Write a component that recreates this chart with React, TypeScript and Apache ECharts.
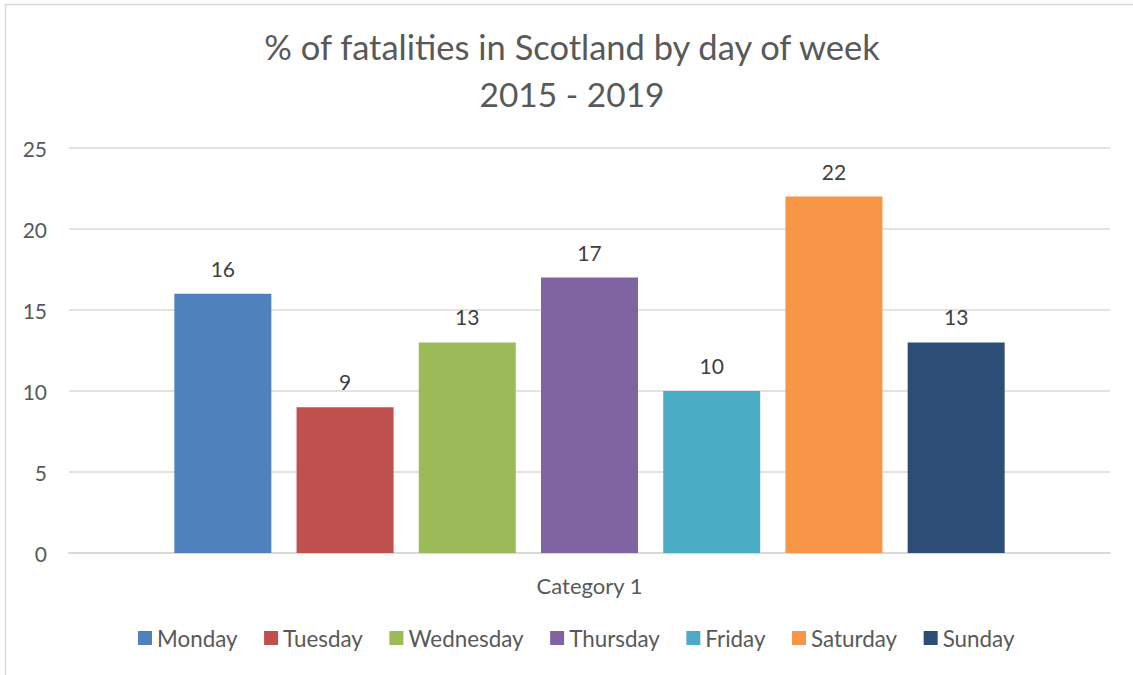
import React, { useEffect, useRef } from "react";
import * as echarts from "echarts";

const categories = ["Category 1"];
const days = ["Monday", "Tuesday", "Wednesday", "Thursday", "Friday", "Saturday", "Sunday"];
const values = [16, 9, 13, 17, 10, 22, 13];
const colors = ["#4f81bd", "#c0504d", "#9bbb59", "#8064a2", "#4bacc6", "#f79646", "#2c4d75"];
const titleLines = ["% of fatalities in Scotland by day of week", "2015 - 2019"];

const FONT = "Lato, 'Liberation Sans', sans-serif";

export default function App() {
  const ref = useRef<HTMLDivElement>(null);
  useEffect(() => {
    if (!ref.current) return;
    const chart = echarts.init(ref.current, undefined, { renderer: "svg" });
    chart.setOption({
      animation: false,
      textStyle: { fontFamily: FONT },
      graphic: [
        {
          type: "rect",
          shape: { x: 5.5, y: 4.5, width: 1140, height: 700 },
          style: { fill: "none", stroke: "#d9d9d9", lineWidth: 1.5 },
          silent: true,
        },
        {
          type: "text",
          x: 572,
          y: 46,
          style: {
            text: titleLines[0],
            fontFamily: FONT,
            fontSize: 34.5,
            fill: "#595959",
            textAlign: "center",
            textVerticalAlign: "middle",
          },
        },
        {
          type: "text",
          x: 572,
          y: 94,
          style: {
            text: titleLines[1],
            fontFamily: FONT,
            fontSize: 33.5,
            fill: "#595959",
            textAlign: "center",
            textVerticalAlign: "middle",
          },
        },
      ],
      legend: {
        data: days,
        top: 622,
        left: 133,
        icon: "rect",
        itemWidth: 14,
        itemHeight: 14,
        itemGap: 26.5,
        textStyle: { fontFamily: FONT, fontSize: 22.4, color: "#595959" },
      },
      grid: { left: 69, right: 23, top: 148, bottom: 122, containLabel: false },
      xAxis: {
        type: "category",
        data: categories,
        axisLine: { lineStyle: { color: "#d9d9d9", width: 2 } },
        axisTick: { show: false },
        axisLabel: { fontFamily: FONT, fontSize: 22, color: "#595959", margin: 21 },
      },
      yAxis: {
        type: "value",
        min: 0,
        max: 25,
        interval: 5,
        axisLine: { show: false },
        axisTick: { show: false },
        splitLine: { lineStyle: { color: "#d9d9d9", width: 1.5 } },
        axisLabel: { fontFamily: FONT, fontSize: 21, color: "#595959", margin: 22 },
      },
      series: days.map((d, i) => ({
        name: d,
        type: "bar",
        data: [values[i]],
        barWidth: 97,
        barGap: "26%",
        itemStyle: { color: colors[i] },
        label: {
          show: true,
          position: "top",
          distance: 15,
          fontFamily: FONT,
          fontSize: 21,
          color: "#404040",
        },
      })),
    });
    return () => chart.dispose();
  }, []);
  return (
    <div
      ref={ref}
      style={{ position: "absolute", left: 0, top: 0, width: 1133, height: 675, background: "#fff" }}
    />
  );
}
